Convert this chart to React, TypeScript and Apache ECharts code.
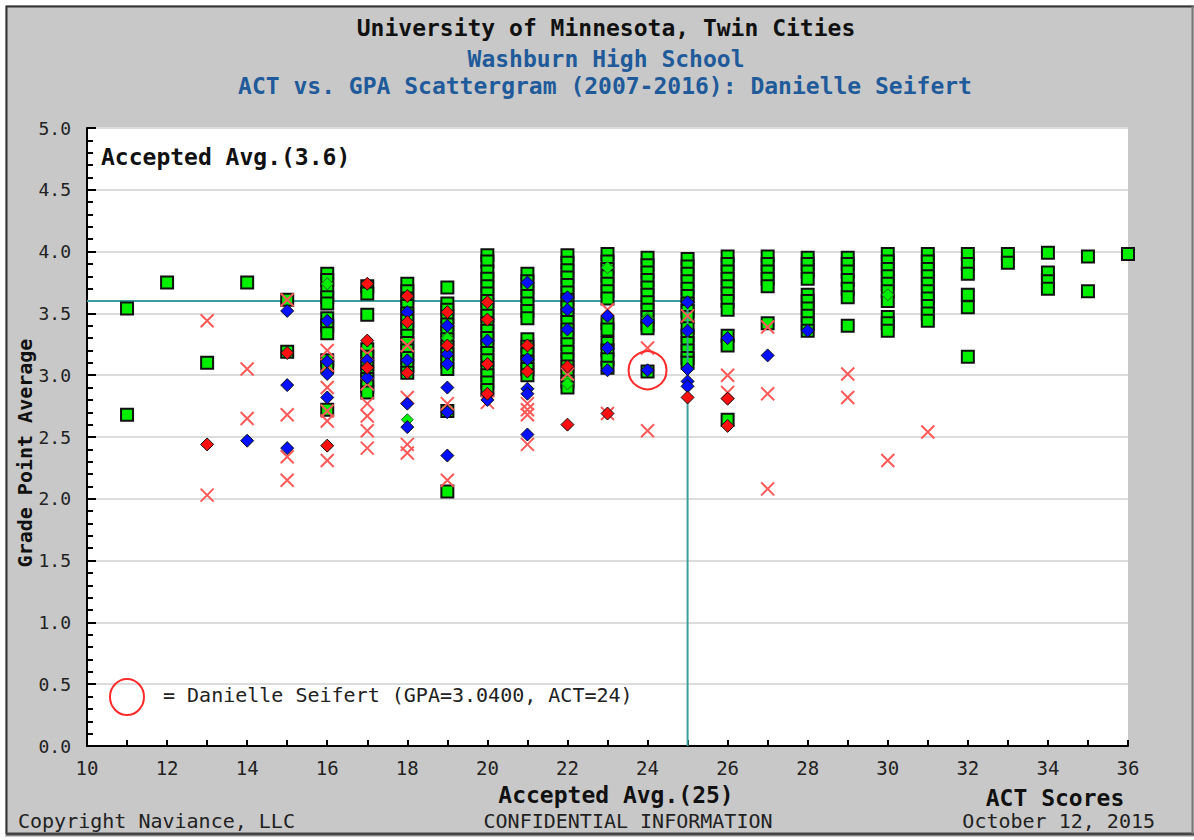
import React, { useEffect, useRef } from "react";
import * as echarts from "echarts";

// ---- Data (ACT score -> list of GPAs) ----
const acceptedByAct: [number, number[]][] = [
  [11, [3.54, 2.68]],
  [12, [3.75]],
  [13, [3.1]],
  [14, [3.75]],
  [15, [3.61, 3.19]],
  [16, [3.82, 3.77, 3.7, 3.63, 3.58, 3.46, 3.4, 3.34, 3.12, 3.07, 2.72]],
  [17, [3.72, 3.66, 3.49, 3.21, 3.15, 3.09, 3.03, 2.97, 2.91, 2.86]],
  [18, [3.74, 3.68, 3.62, 3.56, 3.5, 3.44, 3.38, 3.32, 3.26, 3.2, 3.14, 3.08, 3.02]],
  [19, [3.71, 3.58, 3.53, 3.47, 3.41, 3.35, 3.29, 3.23, 3.17, 3.11, 3.05, 2.71, 2.06]],
  [20, [3.97, 3.92, 3.84, 3.78, 3.72, 3.66, 3.6, 3.54, 3.48, 3.42, 3.36, 3.3, 3.24, 3.18, 3.12, 3.06, 3.0, 2.94, 2.88]],
  [21, [3.82, 3.76, 3.7, 3.64, 3.58, 3.52, 3.46, 3.29, 3.23, 3.17, 3.11, 3.05, 3.0]],
  [22, [3.97, 3.91, 3.85, 3.79, 3.73, 3.67, 3.61, 3.55, 3.49, 3.43, 3.37, 3.31, 3.25, 3.19, 3.13, 3.07, 3.01, 2.95, 2.9]],
  [23, [3.98, 3.92, 3.86, 3.8, 3.74, 3.68, 3.62, 3.42, 3.37, 3.26, 3.2, 3.13, 3.06]],
  [24, [3.95, 3.89, 3.83, 3.77, 3.71, 3.65, 3.59, 3.53, 3.47, 3.41, 3.38, 3.03]],
  [25, [3.94, 3.88, 3.82, 3.76, 3.7, 3.64, 3.58, 3.52, 3.47, 3.38, 3.32, 3.26, 3.2, 3.14, 3.1]],
  [26, [3.96, 3.9, 3.84, 3.78, 3.72, 3.66, 3.6, 3.53, 3.32, 3.24, 2.64]],
  [27, [3.96, 3.9, 3.84, 3.78, 3.72, 3.42]],
  [28, [3.95, 3.9, 3.84, 3.78, 3.65, 3.6, 3.54, 3.48, 3.42, 3.36]],
  [29, [3.95, 3.9, 3.84, 3.77, 3.7, 3.63, 3.4]],
  [30, [3.98, 3.92, 3.86, 3.8, 3.74, 3.68, 3.6, 3.47, 3.42, 3.36]],
  [31, [3.98, 3.92, 3.86, 3.8, 3.74, 3.68, 3.62, 3.56, 3.5, 3.44]],
  [32, [3.98, 3.9, 3.82, 3.65, 3.55, 3.15]],
  [33, [3.98, 3.91]],
  [34, [3.99, 3.83, 3.76, 3.7]],
  [35, [3.96, 3.68]],
  [36, [3.98]],
];

const deniedByAct: [number, number[]][] = [
  [13, [3.44, 2.03]],
  [14, [3.05, 2.65]],
  [15, [3.61, 2.68, 2.34, 2.15]],
  [16, [3.2, 3.08, 2.9, 2.71, 2.63, 2.31]],
  [17, [3.17, 2.93, 2.77, 2.67, 2.55, 2.41]],
  [18, [3.24, 2.82, 2.44, 2.37]],
  [19, [2.77, 2.15]],
  [20, [2.78]],
  [21, [2.77, 2.72, 2.68, 2.44]],
  [22, [3.01]],
  [23, [3.53, 2.69]],
  [24, [3.22, 2.55]],
  [25, [3.48]],
  [26, [3.0, 2.86]],
  [27, [3.39, 2.85, 2.08]],
  [29, [3.01, 2.82]],
  [30, [2.31]],
  [31, [2.54]],
];

const blueDiamondByAct: [number, number[]][] = [
  [14, [2.47]],
  [15, [3.52, 2.92, 2.41]],
  [16, [3.44, 3.11, 3.01, 2.82]],
  [17, [3.12, 2.98]],
  [18, [3.51, 3.12, 2.77, 2.58]],
  [19, [3.4, 3.17, 3.09, 2.9, 2.7, 2.35]],
  [20, [3.28, 2.8]],
  [21, [3.75, 3.13, 2.89, 2.85, 2.52]],
  [22, [3.63, 3.53, 3.37]],
  [23, [3.48, 3.22, 3.04]],
  [24, [3.44, 3.04]],
  [25, [3.59, 3.36, 3.05, 2.95, 2.91]],
  [26, [3.3]],
  [27, [3.16]],
  [28, [3.36]],
];

const redDiamondByAct: [number, number[]][] = [
  [13, [2.44]],
  [15, [3.18]],
  [16, [2.43]],
  [17, [3.74, 3.28, 3.06]],
  [18, [3.64, 3.43, 3.02]],
  [19, [3.51, 3.24]],
  [20, [3.59, 3.45, 3.09, 2.85]],
  [21, [3.24, 3.03]],
  [22, [3.07, 2.6]],
  [23, [2.69]],
  [25, [2.82]],
  [26, [2.81, 2.59]],
];

const greenDiamondByAct: [number, number[]][] = [
  [16, [3.74]],
  [18, [2.64]],
  [19, [3.3]],
  [22, [2.93]],
  [23, [3.87, 3.47]],
  [24, [3.46]],
  [30, [3.65]],
];

const acceptedAvgAct = 25;
const acceptedAvgGpa = 3.6;
const studentAct = 24;
const studentGpa = 3.04;

const xTickMin = 10;
const xTickMax = 36;
const yTickMin = 0;
const yTickMax = 5;

const flatten = (rows: [number, number[]][]) =>
  rows.flatMap(([act, gpas]) => gpas.map((g) => [act, g]));

const MONO = "'DejaVu Sans Mono', 'Liberation Mono', monospace";

export default function App() {
  const ref = useRef<HTMLDivElement>(null);

  useEffect(() => {
    if (!ref.current) return;
    const chart = echarts.init(ref.current, undefined, { renderer: "svg" });

    const baseScatter = { type: "scatter", silent: true, animation: false };

    const option: any = {
      animation: false,
      backgroundColor: "#c8c8c8",
      grid: {
        left: 87,
        top: 128,
        width: 1041,
        height: 618,
        show: true,
        backgroundColor: "#ffffff",
        borderWidth: 0,
      },
      xAxis: {
        type: "value",
        min: xTickMin,
        max: xTickMax,
        interval: 2,
        axisLine: { show: true, onZero: false, lineStyle: { color: "#000", width: 2 } },
        axisTick: { show: true, inside: true, length: 6, lineStyle: { color: "#000", width: 2 } },
        minorTick: { show: true, splitNumber: 2, length: 6, lineStyle: { color: "#000", width: 2 } },
        splitLine: { show: false },
        axisLabel: { fontFamily: MONO, fontSize: 19, color: "#222", margin: 12 },
      },
      yAxis: {
        type: "value",
        min: yTickMin,
        max: yTickMax,
        interval: 0.5,
        axisLine: { show: true, onZero: false, lineStyle: { color: "#000", width: 2 } },
        axisTick: { show: true, inside: true, length: 9, lineStyle: { color: "#000", width: 2 } },
        minorTick: { show: true, splitNumber: 5, length: 6, lineStyle: { color: "#000", width: 2 } },
        splitLine: { show: true, lineStyle: { color: "#dcdcdc", width: 2 } },
        axisLabel: {
          fontFamily: MONO,
          fontSize: 18,
          color: "#222",
          margin: 16,
          formatter: (v: number) => v.toFixed(1),
        },
      },
      series: [
        {
          type: "line",
          silent: true,
          symbol: "none",
          data: [
            [xTickMin, acceptedAvgGpa],
            [acceptedAvgAct, acceptedAvgGpa],
          ],
          lineStyle: { color: "#3e9e9e", width: 2 },
          z: 1,
        },
        {
          ...baseScatter,
          name: "Accepted",
          symbol: "rect",
          symbolSize: 12,
          data: flatten(acceptedByAct),
          itemStyle: { color: "#00f000", borderColor: "#111", borderWidth: 2, opacity: 1 },
          z: 2,
        },
        {
          type: "line",
          silent: true,
          symbol: "none",
          data: [
            [acceptedAvgAct, acceptedAvgGpa],
            [acceptedAvgAct, yTickMin],
          ],
          lineStyle: { color: "#3e9e9e", width: 2 },
          z: 3,
        },
        {
          ...baseScatter,
          name: "Denied",
          symbol: "path://M0,0L10,10M10,0L0,10",
          symbolSize: 13,
          data: flatten(deniedByAct),
          itemStyle: { color: "rgba(0,0,0,0)", borderColor: "#ff5a5a", borderWidth: 2, opacity: 1 },
          z: 4,
        },
        {
          ...baseScatter,
          name: "Accepted (diamond)",
          symbol: "diamond",
          symbolSize: 12,
          data: flatten(greenDiamondByAct),
          itemStyle: { color: "#00f000", borderColor: "#2a6a2a", borderWidth: 1, opacity: 1 },
          z: 5,
        },
        {
          ...baseScatter,
          name: "Blue",
          symbol: "diamond",
          symbolSize: 13,
          data: flatten(blueDiamondByAct),
          itemStyle: { color: "#0010ff", borderColor: "#111", borderWidth: 1, opacity: 1 },
          z: 6,
        },
        {
          ...baseScatter,
          name: "Red",
          symbol: "diamond",
          symbolSize: 13,
          data: flatten(redDiamondByAct),
          itemStyle: { color: "#ff1010", borderColor: "#111", borderWidth: 1, opacity: 1 },
          z: 7,
        },
        {
          ...baseScatter,
          name: "Student",
          symbol: "circle",
          symbolSize: 38,
          data: [[studentAct, studentGpa]],
          itemStyle: { color: "rgba(0,0,0,0)", borderColor: "#ff2a2a", borderWidth: 2, opacity: 1 },
          z: 8,
        },
      ],
      graphic: [
        { type: "rect", shape: { x: 0, y: 0, width: 1194, height: 5 }, style: { fill: "#fff" }, silent: true },
        { type: "rect", shape: { x: 0, y: 0, width: 5, height: 840 }, style: { fill: "#fff" }, silent: true },
        { type: "rect", shape: { x: 0, y: 837, width: 1194, height: 3 }, style: { fill: "#fff" }, silent: true },
        { type: "line", shape: { x1: 6, y1: 6.5, x2: 1194, y2: 6.5 }, style: { stroke: "#333", lineWidth: 2 }, silent: true },
        { type: "line", shape: { x1: 6.5, y1: 6, x2: 6.5, y2: 834 }, style: { stroke: "#333", lineWidth: 2 }, silent: true },
        { type: "line", shape: { x1: 6, y1: 834, x2: 1194, y2: 834 }, style: { stroke: "#444", lineWidth: 3 }, silent: true },
        { type: "line", shape: { x1: 1192.5, y1: 6, x2: 1192.5, y2: 834 }, style: { stroke: "#777", lineWidth: 2 }, silent: true },
        {
          type: "text", x: 606, y: 28, silent: true,
          style: { text: "University of Minnesota, Twin Cities", font: `bold 23px ${MONO}`, fill: "#111", align: "center", verticalAlign: "middle" },
        },
        {
          type: "text", x: 606, y: 59, silent: true,
          style: { text: "Washburn High School", font: `bold 23px ${MONO}`, fill: "#1f5a9a", align: "center", verticalAlign: "middle" },
        },
        {
          type: "text", x: 605, y: 86, silent: true,
          style: { text: "ACT vs. GPA Scattergram (2007-2016): Danielle Seifert", font: `bold 23px ${MONO}`, fill: "#1f5a9a", align: "center", verticalAlign: "middle" },
        },
        {
          type: "text", x: 101, y: 157, silent: true, z: 100,
          style: { text: "Accepted Avg.(3.6)", font: `bold 23px ${MONO}`, fill: "#111", align: "left", verticalAlign: "middle" },
        },
        {
          type: "text", x: 25, y: 453, rotation: Math.PI / 2, silent: true,
          style: { text: "Grade Point Average", font: `bold 20px ${MONO}`, fill: "#111", align: "center", verticalAlign: "middle" },
        },
        {
          type: "text", x: 616, y: 795, silent: true,
          style: { text: "Accepted Avg.(25)", font: `bold 23px ${MONO}`, fill: "#111", align: "center", verticalAlign: "middle" },
        },
        {
          type: "text", x: 1055, y: 798, silent: true,
          style: { text: "ACT Scores", font: `bold 23px ${MONO}`, fill: "#111", align: "center", verticalAlign: "middle" },
        },
        {
          type: "text", x: 18, y: 821, silent: true,
          style: { text: "Copyright Naviance, LLC", font: `20px ${MONO}`, fill: "#222", align: "left", verticalAlign: "middle" },
        },
        {
          type: "text", x: 628, y: 821, silent: true,
          style: { text: "CONFIDENTIAL INFORMATION", font: `20px ${MONO}`, fill: "#222", align: "center", verticalAlign: "middle" },
        },
        {
          type: "text", x: 1155, y: 821, silent: true,
          style: { text: "October 12, 2015", font: `20px ${MONO}`, fill: "#222", align: "right", verticalAlign: "middle" },
        },
        {
          type: "ellipse", silent: true, z: 100,
          shape: { cx: 127, cy: 697, rx: 17, ry: 18 },
          style: { fill: "none", stroke: "#ff2a2a", lineWidth: 2 },
        },
        {
          type: "text", x: 163, y: 695, silent: true, z: 100,
          style: { text: "= Danielle Seifert (GPA=3.0400, ACT=24)", font: `20px ${MONO}`, fill: "#222", align: "left", verticalAlign: "middle" },
        },
      ],
    };

    chart.setOption(option);
    return () => chart.dispose();
  }, []);

  return (
    <div
      ref={ref}
      style={{ position: "fixed", left: 0, top: 0, width: 1194, height: 840 }}
    />
  );
}
